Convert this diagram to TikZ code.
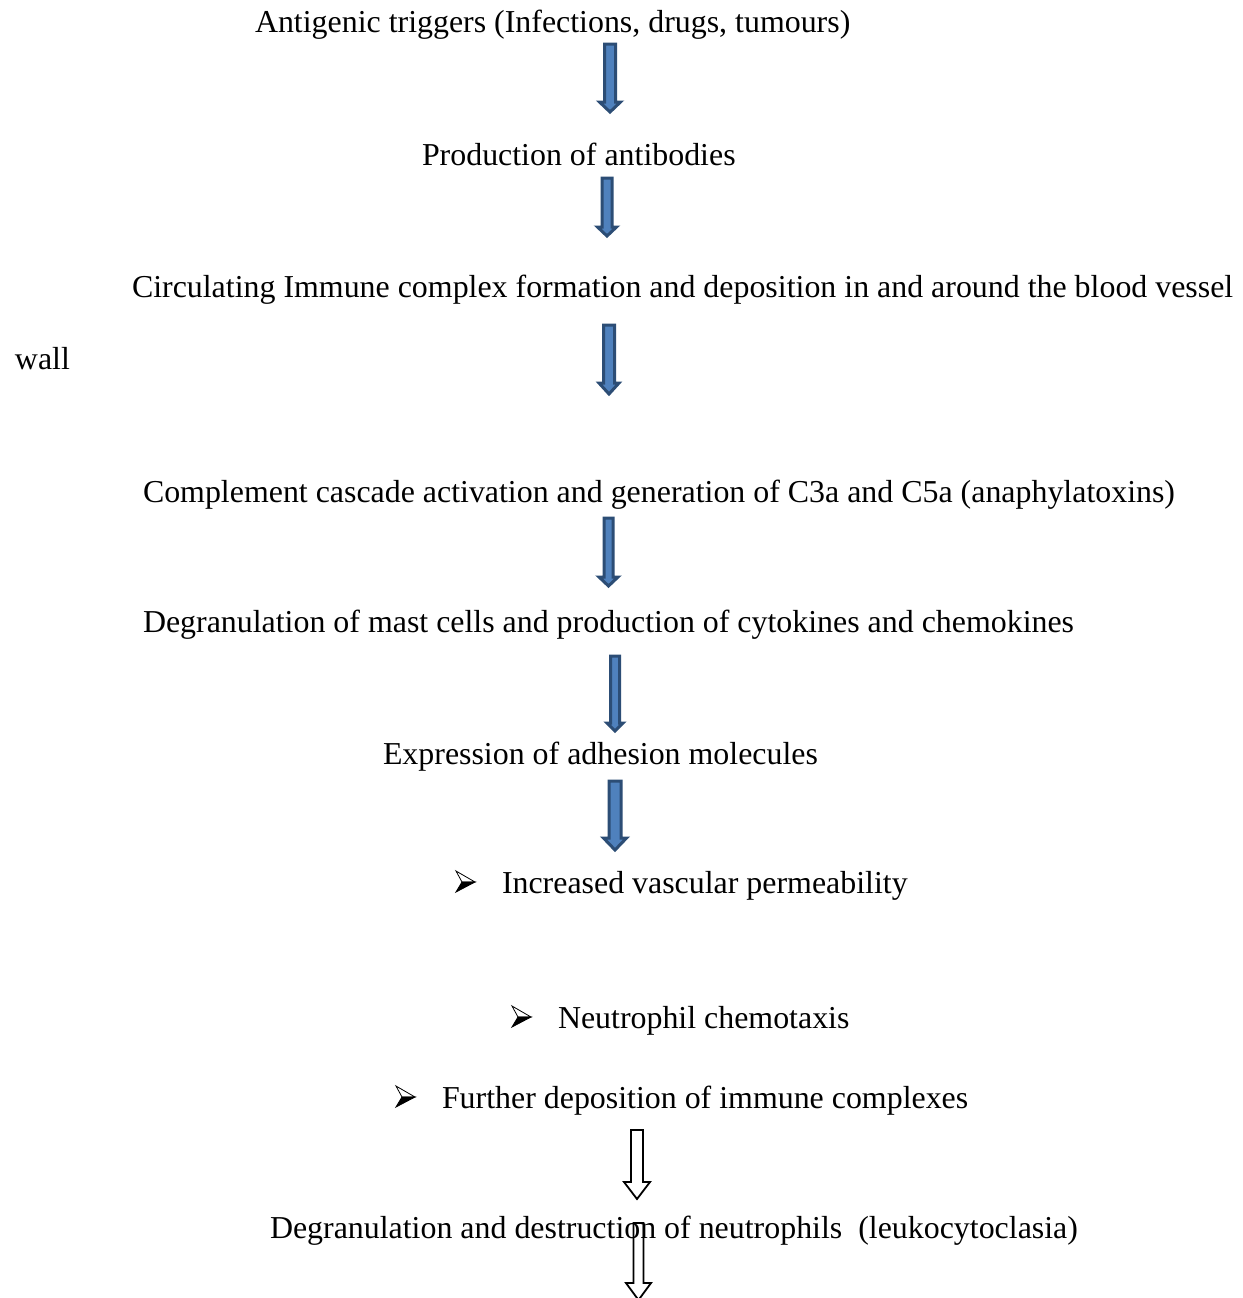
\documentclass[tikz,border=0pt]{standalone}
\usepackage{fontspec}
\setmainfont{Liberation Serif}
\definecolor{arrowfill}{HTML}{4F81BD}
\definecolor{arrowline}{HTML}{2C4D75}
\tikzset{
  txt/.style={anchor=base west,inner sep=0pt,outer sep=0pt,font=\fontsize{15.95}{19}\selectfont},
  bluearrow/.style={fill=arrowfill,draw=arrowline,line width=1.5pt,line join=miter},
  whitearrow/.style={fill=white,draw=black,line width=0.9pt,line join=miter},
  openarrow/.style={draw=black,line width=0.9pt,line join=miter},
  bulletup/.style={fill=white,draw=black,line width=0.4pt,line join=miter},
  bulletdown/.style={fill=black,draw=black,line width=0.4pt,line join=miter}
}
% #1 style, #2 centre x, #3 top y, #4 head start y, #5 tip y, #6 shaft half width, #7 head half width
\newcommand{\blockarrow}[7]{%
  \draw[#1] ({#2-#6},#3) -- ({#2+#6},#3) -- ({#2+#6},#4) -- ({#2+#7},#4) -- (#2,#5)
    -- ({#2-#7},#4) -- ({#2-#6},#4) -- cycle;}
% #1 left x, #2 baseline y
\newcommand{\arrowbullet}[2]{%
  \draw[bulletup] (#1,{#2-22}) -- ({#1+19},{#2-11}) -- ({#1+6},{#2-11}) -- cycle;
  \draw[bulletdown] ({#1+6},{#2-11}) -- ({#1+19},{#2-11}) -- (#1,{#2-1}) -- cycle;}
\begin{document}
\begin{tikzpicture}[x=0.5pt,y=-0.5pt]
\useasboundingbox (0,0) rectangle (1243,1298);
\fill[white] (0,0) rectangle (1243,1298);

\node[txt] (t1) at (255,32) {Antigenic triggers (Infections, drugs, tumours)};
\node[txt] (t2) at (422,165) {Production of antibodies};
\node[txt] (t3) at (132,297) {Circulating Immune complex formation and deposition in and around the blood vessel};
\node[txt] (t4) at (15,369) {wall};
\node[txt] (t5) at (143,502) {Complement cascade activation and generation of C3a and C5a (anaphylatoxins)};
\node[txt] (t6) at (143,632) {Degranulation of mast cells and production of cytokines and chemokines};
\node[txt] (t7) at (383,764) {Expression of adhesion molecules};
\node[txt] (t8) at (502,893) {Increased vascular permeability};
\node[txt] (t9) at (558,1028) {Neutrophil chemotaxis};
\node[txt] (t10) at (442,1108) {Further deposition of immune complexes};
\node[txt] (t11) at (270,1238) {Degranulation and destruction of neutrophils\ \ (leukocytoclasia)};

\arrowbullet{456}{893}
\arrowbullet{512}{1028}
\arrowbullet{396}{1108}

\blockarrow{bluearrow}{610}{44}{102}{112}{5.5}{10.5}
\blockarrow{bluearrow}{607}{178}{227}{236}{5}{9.5}
\blockarrow{bluearrow}{609}{325}{383}{394}{5.5}{10}
\blockarrow{bluearrow}{608.5}{518}{577}{586}{4.5}{9.5}
\blockarrow{bluearrow}{615}{656}{723}{731}{4.5}{8}
\blockarrow{bluearrow}{615}{781}{838}{850}{6}{11.5}
\blockarrow{whitearrow}{637}{1130}{1182}{1199}{6}{13}
\blockarrow{openarrow}{638.5}{1223}{1283}{1300}{5}{12.5}
\end{tikzpicture}
\end{document}
